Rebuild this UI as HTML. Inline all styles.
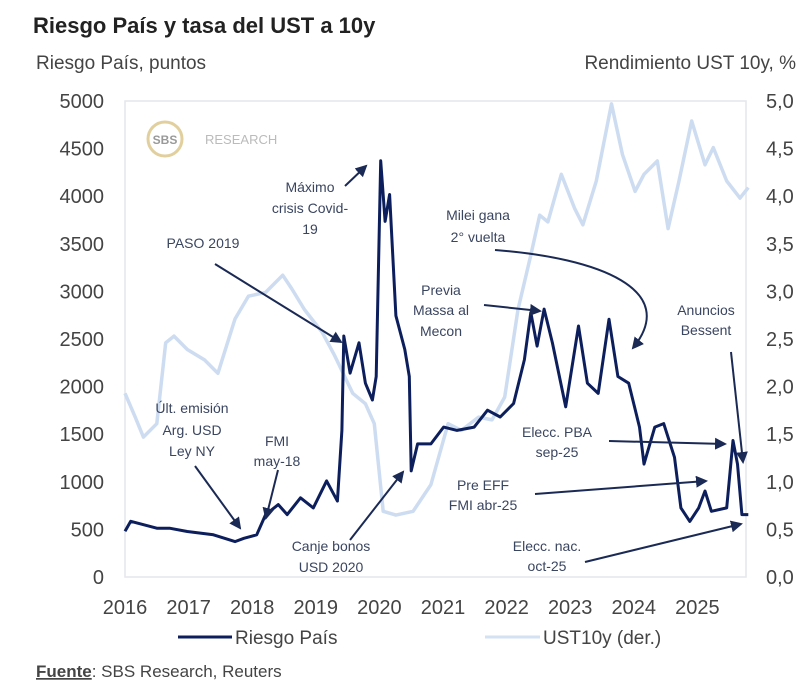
<!DOCTYPE html>
<html><head><meta charset="utf-8"><style>
body{margin:0;background:#fff;}
svg{display:block;font-family:"Liberation Sans",sans-serif;}
.ann{font-size:14px;fill:#3a4560;text-anchor:middle;}
</style></head><body>
<svg id="chart" width="800" height="694" viewBox="0 0 800 694">
<defs><marker id="ah" markerWidth="8" markerHeight="8" refX="6" refY="4" orient="auto" markerUnits="userSpaceOnUse" viewBox="0 0 8 8"><path d="M0,0 L8,4 L0,8 z" fill="#1b2a55"/></marker>
<marker id="ah2" markerWidth="12" markerHeight="12" refX="10" refY="6" orient="auto" markerUnits="userSpaceOnUse"><path d="M0,0 L12,6 L0,12 z" fill="#1b2a55"/></marker></defs>
<text x="33" y="33" font-size="22" font-weight="bold" fill="#222">Riesgo País y tasa del UST a 10y</text>
<text x="36" y="69" font-size="19" fill="#444">Riesgo País, puntos</text>
<text x="796" y="69" font-size="19" fill="#444" text-anchor="end">Rendimiento UST 10y, %</text>
<rect x="125" y="101" width="621" height="476" fill="none" stroke="#e4e6ea" stroke-width="1.5"/>
<g><circle cx="165" cy="139" r="17" fill="none" stroke="#e2cf9e" stroke-width="3"/><text x="165" y="144" font-size="12" font-weight="bold" fill="#999" text-anchor="middle">SBS</text><text x="205" y="144" font-size="13" fill="#bbb">RESEARCH</text></g>
<g id="axes"></g>
<g id="series"></g>
<g>
<text class="ann" x="310"><tspan x="310" y="192">Máximo</tspan><tspan x="310" y="213">crisis Covid-</tspan><tspan x="310" y="234">19</tspan></text>
<line x1="345" y1="186" x2="366" y2="166" stroke="#1b2a55" stroke-width="2" marker-end="url(#ah2)"/>
<text class="ann" x="203" y="248">PASO 2019</text>
<line x1="215" y1="264" x2="341" y2="342" stroke="#1b2a55" stroke-width="2" marker-end="url(#ah2)"/>
<text class="ann"><tspan x="478" y="220">Milei gana</tspan><tspan x="478" y="242">2° vuelta</tspan></text>
<path d="M495,250 C600,258 680,290 633,348" fill="none" stroke="#1b2a55" stroke-width="2" marker-end="url(#ah2)"/>
<text class="ann"><tspan x="441" y="295">Previa</tspan><tspan x="441" y="315">Massa al</tspan><tspan x="441" y="336">Mecon</tspan></text>
<line x1="484" y1="305" x2="540" y2="311" stroke="#1b2a55" stroke-width="2" marker-end="url(#ah2)"/>
<text class="ann"><tspan x="706" y="315">Anuncios</tspan><tspan x="706" y="335">Bessent</tspan></text>
<line x1="731" y1="352" x2="743" y2="462" stroke="#1b2a55" stroke-width="2" marker-end="url(#ah2)"/>
<text class="ann"><tspan x="192" y="413">Últ. emisión</tspan><tspan x="192" y="435">Arg. USD</tspan><tspan x="192" y="456">Ley NY</tspan></text>
<line x1="195" y1="466" x2="240" y2="528" stroke="#1b2a55" stroke-width="2" marker-end="url(#ah2)"/>
<text class="ann"><tspan x="277" y="446">FMI</tspan><tspan x="277" y="466">may-18</tspan></text>
<line x1="278" y1="470" x2="266" y2="518" stroke="#1b2a55" stroke-width="2" marker-end="url(#ah2)"/>
<text class="ann"><tspan x="557" y="437">Elecc. PBA</tspan><tspan x="557" y="457">sep-25</tspan></text>
<line x1="609" y1="441" x2="725" y2="444" stroke="#1b2a55" stroke-width="2" marker-end="url(#ah2)"/>
<text class="ann"><tspan x="483" y="490">Pre EFF</tspan><tspan x="483" y="510">FMI abr-25</tspan></text>
<line x1="535" y1="494" x2="706" y2="481" stroke="#1b2a55" stroke-width="2" marker-end="url(#ah2)"/>
<text class="ann"><tspan x="331" y="551">Canje bonos</tspan><tspan x="331" y="572">USD 2020</tspan></text>
<line x1="350" y1="540" x2="403" y2="472" stroke="#1b2a55" stroke-width="2" marker-end="url(#ah2)"/>
<text class="ann"><tspan x="547" y="551">Elecc. nac.</tspan><tspan x="547" y="571">oct-25</tspan></text>
<line x1="585" y1="562" x2="741" y2="524" stroke="#1b2a55" stroke-width="2" marker-end="url(#ah2)"/>
</g>
<g>
<line x1="178" y1="637" x2="232" y2="637" stroke="#0c1f5c" stroke-width="3"/>
<text x="235" y="644" font-size="19" fill="#444">Riesgo País</text>
<line x1="485" y1="637" x2="540" y2="637" stroke="#d3e1f3" stroke-width="3"/>
<text x="543" y="644" font-size="19" fill="#444">UST10y (der.)</text>
</g>
<text x="36" y="677" font-size="17" fill="#444"><tspan font-weight="bold" text-decoration="underline">Fuente</tspan>: SBS Research, Reuters</text>
</svg>
<script>
const riesgoT=[2016.0,2016.09,2016.5,2016.7,2016.98,2017.39,2017.73,2017.87,2018.07,2018.21,2018.41,2018.55,2018.76,2018.96,2019.17,2019.34,2019.41,2019.44,2019.54,2019.68,2019.78,2019.89,2019.95,2020.02,2020.09,2020.16,2020.26,2020.4,2020.47,2020.5,2020.6,2020.81,2021.01,2021.22,2021.49,2021.7,2021.9,2022.11,2022.28,2022.38,2022.48,2022.59,2022.72,2022.93,2023.13,2023.27,2023.44,2023.61,2023.75,2023.92,2024.09,2024.16,2024.33,2024.47,2024.64,2024.74,2024.88,2025.02,2025.12,2025.22,2025.46,2025.56,2025.63,2025.7,2025.8];
const riesgoV=[480,585,513,513,478,443,372,407,443,655,761,655,832,726,1009,797,1540,2531,2142,2460,2036,1859,2106,4372,3735,4018,2744,2390,2106,1115,1398,1398,1575,1540,1575,1752,1681,1823,2283,2779,2425,2814,2460,1788,2637,2036,1929,2708,2106,2036,1575,1186,1575,1611,1257,726,584,726,903,690,726,1434,1186,655,655];
const ustT=[2016.0,2016.16,2016.29,2016.5,2016.64,2016.77,2016.98,2017.25,2017.46,2017.73,2017.94,2018.21,2018.48,2018.62,2018.82,2019.1,2019.3,2019.58,2019.78,2019.92,2020.06,2020.26,2020.53,2020.81,2021.08,2021.29,2021.56,2021.77,2021.97,2022.18,2022.38,2022.52,2022.65,2022.86,2023.07,2023.2,2023.41,2023.65,2023.82,2024.02,2024.16,2024.37,2024.54,2024.71,2024.91,2025.12,2025.25,2025.46,2025.67,2025.8];
const ustV=[1.93,1.68,1.47,1.61,2.46,2.53,2.39,2.28,2.14,2.71,2.95,2.99,3.17,3.03,2.81,2.57,2.32,1.93,1.82,1.61,0.69,0.65,0.69,0.97,1.61,1.54,1.68,1.65,1.89,2.81,3.38,3.8,3.73,4.23,3.87,3.7,4.16,4.97,4.44,4.05,4.23,4.37,3.66,4.16,4.79,4.33,4.51,4.16,3.98,4.09];
const years=[2016,2017,2018,2019,2020,2021,2022,2023,2024,2025];
const leftTicks=[0,500,1000,1500,2000,2500,3000,3500,4000,4500,5000];
const rightTicks=["0,0","0,5","1,0","1,5","2,0","2,5","3,0","3,5","4,0","4,5","5,0"];
const NS="http://www.w3.org/2000/svg";
const X=t=>125+(t-2016)*63.6;
const YL=v=>577-v*0.0952;
const YR=v=>577-v*95.2;
const ax=document.getElementById('axes'),se=document.getElementById('series');
function mk(tag,attrs,parent,txt){const e=document.createElementNS(NS,tag);for(const k in attrs)e.setAttribute(k,attrs[k]);if(txt!==undefined)e.textContent=txt;parent.appendChild(e);return e;}
leftTicks.forEach((v,i)=>{
 const e=mk('text',{x:104,y:YL(v)+7,'font-size':20,fill:'#444','text-anchor':'end'},ax,String(v));
 
 
 const r=mk('text',{x:766,y:YR(i*0.5)+7,'font-size':20,fill:'#444'},ax,rightTicks[i]);
 
 
});
years.forEach(y=>{
 const e=mk('text',{x:X(y),y:614,'font-size':20,fill:'#444','text-anchor':'middle'},ax,String(y));
 
 
});
const up=ustT.map((t,i)=>X(t).toFixed(1)+','+YR(ustV[i]).toFixed(1)).join(' ');
const ul=mk('polyline',{points:up,fill:'none',stroke:'#cddcf1','stroke-width':3.5,'stroke-linejoin':'round'},se);


const rp=riesgoT.map((t,i)=>X(t).toFixed(1)+','+YL(riesgoV[i]).toFixed(1)).join(' ');
const rl=mk('polyline',{points:rp,fill:'none',stroke:'#0c1f5c','stroke-width':3,'stroke-linejoin':'round'},se);


</script>
</body></html>
